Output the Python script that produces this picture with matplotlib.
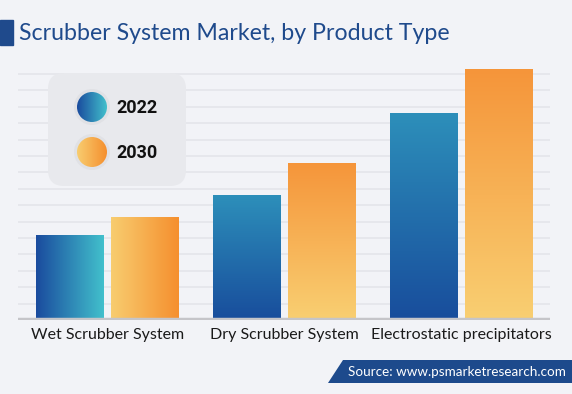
import numpy as np
import matplotlib
matplotlib.use("Agg")
import matplotlib.pyplot as plt
from matplotlib.colors import to_rgb
from matplotlib.patches import Rectangle, FancyBboxPatch, Circle, Polygon

# ---- data ----
categories = ["Wet Scrubber System", "Dry Scrubber System", "Electrostatic precipitators"]
years = ["2022", "2030"]
values_2022 = [5.2, 7.6, 12.6]
values_2030 = [6.3, 9.6, 15.3]
title = "Scrubber System Market, by Product Type"
source = "Source: www.psmarketresearch.com"

BG = "#f2f3f7"
W, H = 572, 394
fig = plt.figure(figsize=(W / 100, H / 100), dpi=100, facecolor=BG)

# main axes (pixel geometry: x 18..550, baseline y=320, 16.4 px per unit)
unit = 16.4
ymax = 16.0
top_px = 320 - ymax * unit
ax = fig.add_axes([18 / W, (H - 320) / H, 532 / W, (320 - top_px) / H])
ax.set_facecolor("none")
for s in ax.spines.values():
    s.set_visible(False)
ax.set_yticks([])
ax.set_xticks(range(len(categories)))
ax.set_xticklabels(categories, fontsize=11.5, color="#1a1a1a", family="Lato")
ax.tick_params(axis="x", length=0, pad=6)
for g in np.arange(1, 16):
    ax.axhline(g, color="#e4e5ea", lw=1.2, zorder=0)
ax.axhline(0, color="#c5c5c9", lw=3.2, zorder=5)


def grad_img(c1, c2, horizontal, n=256):
    a = np.array(to_rgb(c1))
    b = np.array(to_rgb(c2))
    t = np.linspace(0, 1, n)
    col = a[None, :] * (1 - t[:, None]) + b[None, :] * t[:, None]
    if horizontal:
        return col[None, :, :]
    return col[:, None, :]


bw = 68 / 177
off = 75 / 2 / 177
x = np.arange(len(categories))
bars22 = ax.bar(x - off, values_2022, bw, color="none", edgecolor="none", zorder=3)
bars30 = ax.bar(x + off, values_2030, bw, color="none", edgecolor="none", zorder=3)

for i, (b22, b30) in enumerate(zip(bars22, bars30)):
    horiz = (i == 0)
    for bar, cols in ((b22, ("#1a4b9e", "#42c0cc") if horiz else ("#184d9c", "#2d8fba")),
                      (b30, ("#f8cd70", "#f58f2e") if horiz else ("#f9cf72", "#f5953a"))):
        x0, y0 = bar.get_x(), bar.get_y()
        w, h = bar.get_width(), bar.get_height()
        img = grad_img(cols[0], cols[1], horiz)
        im = ax.imshow(img, extent=(x0, x0 + w, y0, y0 + h), origin="lower",
                       aspect="auto", zorder=3, interpolation="bilinear")
        clip = Rectangle((x0, y0), w, h, transform=ax.transData, facecolor="none")
        ax.add_patch(clip)
        clip.set_visible(False)
        im.set_clip_path(clip)
ax.set_xlim(-0.505, 2.503)
ax.set_ylim(0, ymax)

# overlay axes in pixel coordinates
ov = fig.add_axes([0, 0, 1, 1])
ov.set_xlim(0, W)
ov.set_ylim(H, 0)
ov.axis("off")
ov.set_facecolor("none")

# title
ov.add_patch(Rectangle((0, 20), 13, 25, color="#1f4a8c"))
ov.text(19, 33, title, fontsize=16.7, color="#1f4a8c", family="Lato", va="center", ha="left")

# legend
ov.add_patch(FancyBboxPatch((52, 77), 130, 105, boxstyle="round,pad=4,rounding_size=16",
                            facecolor="#e8e9ed", edgecolor="none", zorder=2))
leg_cols = [("#1a4b9e", "#42c0cc"), ("#f8cd70", "#f58f2e")]
for (cy, yr, cols) in zip([107, 152], years, leg_cols):
    ov.add_patch(Circle((92, cy), 18, facecolor="#e0e1e5", edgecolor="none", zorder=3))
    im = ov.imshow(grad_img(cols[0], cols[1], True), extent=(77, 107, cy + 15, cy - 15),
                   aspect="auto", zorder=4, interpolation="bilinear")
    c = Circle((92, cy), 15, transform=ov.transData, facecolor="none", edgecolor="none")
    ov.add_patch(c)
    im.set_clip_path(c)
    ov.text(116, cy + 0.5, yr, fontsize=13, fontweight="bold", color="#111111",
            family="Roboto", va="center", ha="left", zorder=5)

# source banner
ov.add_patch(Polygon([(343, 360), (572, 360), (572, 383), (328, 383)], closed=True,
                     facecolor="#1d4a8c", edgecolor="none"))
ov.text(348, 372, source, fontsize=9.7, color="white", family="Lato", va="center", ha="left")
ov.set_xlim(0, W)
ov.set_ylim(H, 0)

fig.savefig("out.png", dpi=100, facecolor=BG)
